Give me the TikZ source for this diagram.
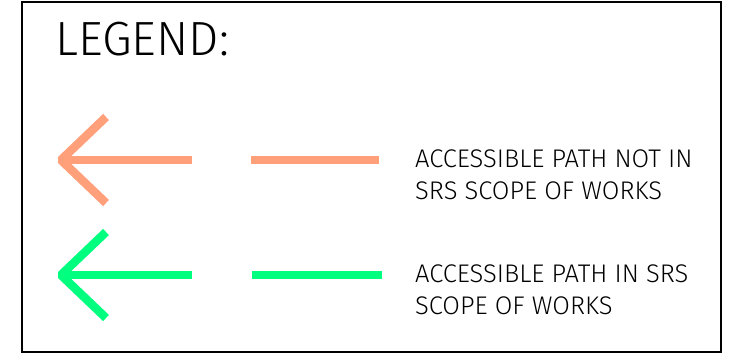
\documentclass[tikz,border=0pt]{standalone}
\usepackage{fontspec}
\setmainfont{Fira Sans}[UprightFont=* Light]
\definecolor{notscope}{HTML}{FFA07A}
\definecolor{inscope}{HTML}{00FF7F}
\begin{document}
\begin{tikzpicture}[x=1pt,y=-1pt,
  frame/.style={draw=black,line width=1.4pt},
  pathline/.style={line width=8.5pt,line cap=butt},
  headline/.style={line width=8.5pt,line cap=butt,line join=bevel},
  title/.style={anchor=base west,inner sep=0pt,font=\fontsize{48}{48}\selectfont},
  label/.style={anchor=base west,inner sep=0pt,align=left,
    font=\fontsize{25.5}{32}\selectfont}]
  \useasboundingbox (0,0) rectangle (734,360);
  \draw[frame] (22,2) rectangle (721,352);
  \node[title] (legend) at (55,55) {LEGEND:};

  % accessible path not in scope
  \coordinate (a1tip) at (61,160);
  \coordinate (a1up) at (106,117);
  \coordinate (a1dn) at (106,203);
  \coordinate (a1end) at (192,160);
  \coordinate (d1s) at (251,160);
  \coordinate (d1e) at (379,160);
  \draw[headline,notscope] (a1up) -- (a1tip) -- (a1dn);
  \draw[pathline,notscope] (a1tip) -- (a1end);
  \draw[pathline,notscope] (d1s) -- (d1e);
  \node[label] (t1) at (415,199) {ACCESSIBLE PATH NOT IN\\SRS SCOPE OF WORKS};

  % accessible path in scope
  \coordinate (a2tip) at (61,275);
  \coordinate (a2up) at (106,232);
  \coordinate (a2dn) at (106,318);
  \coordinate (a2end) at (192,275);
  \coordinate (d2s) at (252,275);
  \coordinate (d2e) at (382,275);
  \draw[headline,inscope] (a2up) -- (a2tip) -- (a2dn);
  \draw[pathline,inscope] (a2tip) -- (a2end);
  \draw[pathline,inscope] (d2s) -- (d2e);
  \node[label] (t2) at (415,314) {ACCESSIBLE PATH IN SRS\\SCOPE OF WORKS};
\end{tikzpicture}
\end{document}
